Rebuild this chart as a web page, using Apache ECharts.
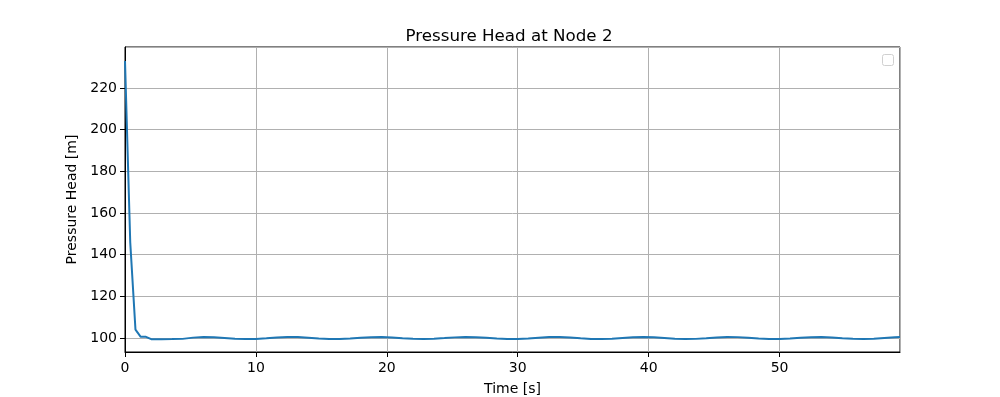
<!DOCTYPE html>
<html>
<head>
<meta charset="utf-8">
<script src="https://cdn.jsdelivr.net/npm/echarts@6/dist/echarts.min.js"></script>
<style>
  html, body {margin: 0; padding: 0; background: #fff;}
  #chart {width: 1000px; height: 397px;}
</style>
</head>
<body>
<div id="chart"></div>
<script>
  // time [s] and pressure head [m]
  const timeS = [0, 0.4, 0.8, 1.2, 1.6,
    2.0, 2.8, 3.6, 4.4, 5.2, 6.0, 6.8, 7.6, 8.4, 9.2, 10.0, 10.8, 11.6, 12.4, 13.2, 14.0,
    14.8, 15.6, 16.4, 17.2, 18.0, 18.8, 19.6, 20.4, 21.2, 22.0, 22.8, 23.6, 24.4, 25.2,
    26.0, 26.8, 27.6, 28.4, 29.2, 30.0, 30.8, 31.6, 32.4, 33.2, 34.0, 34.8, 35.6, 36.4,
    37.2, 38.0, 38.8, 39.6, 40.4, 41.2, 42.0, 42.8, 43.6, 44.4, 45.2, 46.0, 46.8, 47.6,
    48.4, 49.2, 50.0, 50.8, 51.6, 52.4, 53.2, 54.0, 54.8, 55.6, 56.4, 57.2, 58.0, 58.8, 59.2];
  const headM = [233, 146, 104, 100.6, 100.6,
    99.45, 99.45, 99.5, 99.6, 100.2, 100.5, 100.37, 100.04, 99.69, 99.5, 99.59, 99.89, 100.25, 100.48, 100.45, 100.18,
    99.81, 99.55, 99.52, 99.76, 100.12, 100.42, 100.49, 100.31, 99.95, 99.63, 99.5, 99.64, 99.97, 100.32,
    100.5, 100.41, 100.1, 99.74, 99.52, 99.56, 99.83, 100.19, 100.46, 100.47, 100.24, 99.87, 99.58, 99.51,
    99.7, 100.05, 100.38, 100.5, 100.35, 100.02, 99.67, 99.5, 99.6, 99.91, 100.27, 100.48, 100.44, 100.16,
    99.8, 99.54, 99.53, 99.77, 100.13, 100.43, 100.49, 100.29, 99.94, 99.62, 99.5, 99.65, 99.99, 100.33, 100.5];

  const font = 'DejaVu Sans';

  const option = {
    animation: false,
    title: {
      text: 'Pressure Head at Node 2',
      left: 504, top: 23, textAlign: 'center',
      textStyle: {fontFamily: font, fontSize: 16.7, fontWeight: 'normal', color: '#000'}
    },
    grid: {
      left: 125, right: 100, top: 47, bottom: 45,
      outerBoundsMode: 'none', containLabel: false,
      show: true, borderColor: '#000', borderWidth: 1, backgroundColor: '#fff'
    },
    xAxis: {
      type: 'value', min: 0, max: 59.2, splitNumber: 6,
      name: 'Time [s]', nameLocation: 'middle', nameGap: 30,
      nameTextStyle: {fontFamily: font, fontSize: 14, color: '#000'},
      axisLine: {show: true, onZero: false, lineStyle: {color: '#000'}},
      axisTick: {show: true, length: 5, lineStyle: {color: '#000'}},
      axisLabel: {fontFamily: font, fontSize: 14, color: '#000', margin: 9, showMaxLabel: false},
      splitLine: {show: true, lineStyle: {color: '#b0b0b0', width: 1}}
    },
    yAxis: {
      type: 'value', min: 93.3, max: 239.7, splitNumber: 7,
      name: 'Pressure Head [m]', nameLocation: 'middle', nameGap: 44,
      nameTextStyle: {fontFamily: font, fontSize: 14, color: '#000'},
      axisLine: {show: true, onZero: false, lineStyle: {color: '#000'}},
      axisTick: {show: true, length: 5, lineStyle: {color: '#000'}},
      axisLabel: {fontFamily: font, fontSize: 14, color: '#000', margin: 8, showMinLabel: false, showMaxLabel: false},
      splitLine: {show: true, lineStyle: {color: '#b0b0b0', width: 1}}
    },
    graphic: [{
      type: 'rect', left: 882, top: 54,
      shape: {width: 11, height: 11, r: 2},
      style: {fill: '#fff', stroke: '#d0d0d0', lineWidth: 1}
    }],
    series: [{
      type: 'line',
      data: timeS.map((t, i) => [t, headM[i]]),
      showSymbol: false,
      lineStyle: {color: '#1f77b4', width: 2},
      itemStyle: {color: '#1f77b4'}
    }]
  };

  echarts.init(document.getElementById('chart')).setOption(option);
</script>
</body>
</html>
